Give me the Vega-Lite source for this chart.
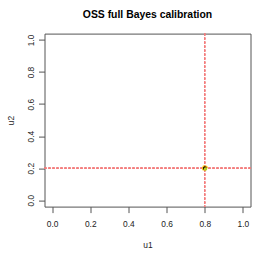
{
  "$schema": "https://vega.github.io/schema/vega-lite/v6.json",
  "width": 206,
  "height": 173,
  "autosize": {"type": "none"},
  "padding": {"left": 44.5, "top": 33.6, "right": 4.5, "bottom": 48.4},
  "background": "white",
  "title": {
    "text": "OSS full Bayes calibration",
    "fontSize": 10.4,
    "fontWeight": "bold",
    "color": "#000000",
    "anchor": "middle",
    "baseline": "alphabetic",
    "offset": 4.7,
    "font": "Liberation Sans"
  },
  "config": {
    "font": "Liberation Sans",
    "view": {"stroke": "#555555", "strokeWidth": 1},
    "axis": {
      "grid": false,
      "domain": false,
      "tickColor": "#555555",
      "tickSize": 6,
      "labelFontSize": 8.4,
      "labelColor": "#222222",
      "titleFontSize": 8.4,
      "titleFontWeight": "normal",
      "titleColor": "#222222",
      "labelFlush": false,
      "labelOverlap": false
    }
  },
  "data": {
    "values": [
      {"u1": 0.795, "u2": 0.197, "grp": "y"},
      {"u1": 0.806, "u2": 0.205, "grp": "y"},
      {"u1": 0.804, "u2": 0.195, "grp": "g"},
      {"u1": 0.797, "u2": 0.206, "grp": "y"},
      {"u1": 0.799, "u2": 0.199, "grp": "o"},
      {"u1": 0.803, "u2": 0.203, "grp": "o"},
      {"u1": 0.801, "u2": 0.196, "grp": "o"},
      {"u1": 0.8, "u2": 0.2, "grp": "k"},
      {"u1": 0.801, "u2": 0.201, "grp": "k"}
    ]
  },
  "layer": [
    {
      "mark": {"type": "rule", "color": "#f47c7c", "strokeWidth": 0.8, "strokeDash": [2, 2]},
      "encoding": {"x": {"datum": 0.8, "type": "quantitative"}}
    },
    {
      "mark": {"type": "rule", "color": "#f47c7c", "strokeWidth": 0.8, "strokeDash": [2, 2]},
      "encoding": {"y": {"datum": 0.2, "type": "quantitative"}}
    },
    {
      "mark": {"type": "circle", "opacity": 1},
      "encoding": {
        "x": {
          "field": "u1",
          "type": "quantitative",
          "scale": {"domain": [-0.04, 1.04], "nice": false, "zero": false},
          "axis": {
            "title": "u1",
            "values": [0, 0.2, 0.4, 0.6, 0.8, 1],
            "tickCount": 6,
            "format": ".1f",
            "labelOverlap": false,
            "labelBaseline": "alphabetic",
            "labelPadding": 13.6,
            "titleBaseline": "alphabetic",
            "titleY": 40.6
          }
        },
        "y": {
          "field": "u2",
          "type": "quantitative",
          "scale": {"domain": [-0.04, 1.04], "nice": false, "zero": false},
          "axis": {
            "title": "u2",
            "values": [0, 0.2, 0.4, 0.6, 0.8, 1],
            "tickCount": 6,
            "format": ".1f",
            "labelOverlap": false,
            "labelAngle": -90,
            "labelAlign": "center",
            "labelBaseline": "alphabetic",
            "labelPadding": 5,
            "titleAngle": -90,
            "titleBaseline": "alphabetic",
            "titleX": -31
          }
        },
        "color": {
          "field": "grp",
          "type": "nominal",
          "scale": {"domain": ["y", "g", "o", "k"], "range": ["#f5c518", "#b8d020", "#f08000", "#000000"]},
          "legend": null
        },
        "order": {"field": "grp", "sort": "descending"},
        "size": {
          "field": "grp",
          "type": "nominal",
          "scale": {"domain": ["y", "g", "o", "k"], "range": [14, 10, 12, 10]},
          "legend": null
        }
      }
    }
  ]
}
